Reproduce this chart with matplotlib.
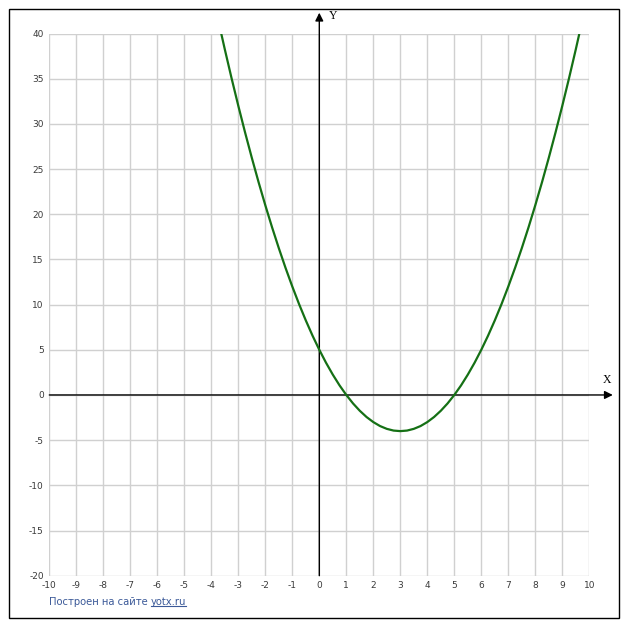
import matplotlib
matplotlib.use("Agg")
import matplotlib.pyplot as plt
from matplotlib.patches import Rectangle
from matplotlib.lines import Line2D

# Curve points
curve_x = [-3.75, -3.5, -3.25, -3.0, -2.75, -2.5, -2.25, -2.0, -1.75, -1.5, -1.25, -1.0,
           -0.75, -0.5, -0.25, 0.0, 0.25, 0.5, 0.75, 1.0, 1.25, 1.5, 1.75, 2.0, 2.25, 2.5,
           2.75, 3.0, 3.25, 3.5, 3.75, 4.0, 4.25, 4.5, 4.75, 5.0, 5.25, 5.5, 5.75, 6.0,
           6.25, 6.5, 6.75, 7.0, 7.25, 7.5, 7.75, 8.0, 8.25, 8.5, 8.75, 9.0, 9.25, 9.5, 9.75]
curve_y = [41.56, 38.25, 35.06, 32.0, 29.06, 26.25, 23.56, 21.0, 18.56, 16.25, 14.06, 12.0,
           10.06, 8.25, 6.56, 5.0, 3.56, 2.25, 1.06, 0.0, -0.94, -1.75, -2.44, -3.0, -3.44, -3.75,
           -3.94, -4.0, -3.94, -3.75, -3.44, -3.0, -2.44, -1.75, -0.94, 0.0, 1.06, 2.25, 3.56, 5.0,
           6.56, 8.25, 10.06, 12.0, 14.06, 16.25, 18.56, 21.0, 23.56, 26.25, 29.06, 32.0, 35.06, 38.25, 41.56]

x_ticks = list(range(-10, 11))
y_ticks = list(range(-20, 41, 5))
x_tick_labels = [str(v) for v in x_ticks]
y_tick_labels = [str(v) for v in y_ticks]
credit_text = "Построен на сайте "
credit_link = "yotx.ru"

W, H = 627, 630
fig = plt.figure(figsize=(W / 100, H / 100), dpi=100)
fig.patch.set_facecolor("white")

left_px, right_px = 49.3, 589.3
top_px, bottom_px = 33.5, 575.7
ax = fig.add_axes([left_px / W, 1 - bottom_px / H, (right_px - left_px) / W, (bottom_px - top_px) / H])
ax.set_xlim(-10, 10)
ax.set_ylim(-20, 40)
for s in ax.spines.values():
    s.set_visible(False)
ax.set_xticks(x_ticks)
ax.set_yticks(y_ticks)
ax.set_xticklabels(x_tick_labels)
ax.set_yticklabels(y_tick_labels)
ax.tick_params(length=0, labelsize=6.5, labelcolor="#3a3a3a", pad=4)
ax.grid(True, color="#d0d0d0", linewidth=1.0)
ax.set_axisbelow(True)

# axes lines with arrows
ax.annotate("", xy=(10.87, 0), xytext=(-10, 0),
            arrowprops=dict(arrowstyle="-|>", color="black", lw=1.0, mutation_scale=12, shrinkA=0, shrinkB=0),
            annotation_clip=False, zorder=4)
ax.annotate("", xy=(0, 42.3), xytext=(0, -20),
            arrowprops=dict(arrowstyle="-|>", color="black", lw=1.0, mutation_scale=12, shrinkA=0, shrinkB=0),
            annotation_clip=False, zorder=4)

fig.text(607 / W, 1 - 380 / H, "X", family="Liberation Serif", fontsize=8.5, ha="center", va="center")
fig.text(333 / W, 1 - 16 / H, "Y", family="Liberation Serif", fontsize=8.5, ha="center", va="center")

ax.plot(curve_x, curve_y, color="#157015", lw=1.6, solid_joinstyle="round", zorder=5)

# outer frame
fig.patches.append(Rectangle((9 / W, 1 - 618 / H), (618.5 - 9) / W, (618 - 9) / H,
                             transform=fig.transFigure, fill=False, edgecolor="black", lw=1.0))

# credit
t1 = fig.text(49 / W, 1 - 602 / H, credit_text, fontsize=7.2, color="#3b5998", ha="left", va="center",
              family="DejaVu Sans")
fig.canvas.draw()
r = fig.canvas.get_renderer()
bb = t1.get_window_extent(r)
t2 = fig.text(bb.x1 / W, 1 - 602 / H, credit_link, fontsize=7.2, color="#3b5998", ha="left", va="center",
              family="DejaVu Sans")
fig.canvas.draw()
bb2 = t2.get_window_extent(r)
uy = (bb2.y0 + 1.0) / H
fig.lines.append(Line2D([bb2.x0 / W, bb2.x1 / W], [uy, uy], transform=fig.transFigure,
                        color="#3b5998", lw=0.8))

fig.savefig("out.png", dpi=100)
